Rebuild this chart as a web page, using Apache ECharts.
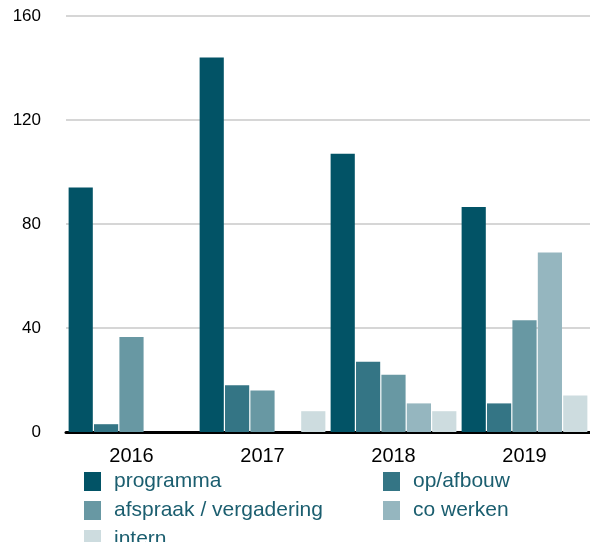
<!DOCTYPE html>
<html>
<head>
<meta charset="utf-8">
<script src="https://cdn.jsdelivr.net/npm/echarts@6/dist/echarts.min.js"></script>
<style>
  html, body { margin: 0; padding: 0; background: #fff; }
  #chart { width: 590px; height: 542px; }
</style>
</head>
<body>
<div id="chart"></div>
<script>
// categories and series values
const years = ['2016', '2017', '2018', '2019'];
const programma = [94, 144, 107, 86.5];
const opAfbouw = [3, 18, 27, 11];
const afspraak = [36.5, 16, 22, 43];
const coWerken = [0, 0, 11, 69];
const intern = [0, 8, 8, 14];
const yTicks = [0, 40, 80, 120, 160];

const names = ['programma', 'op/afbouw', 'afspraak / vergadering', 'co werken', 'intern'];
const colors = ['#025366', '#347585', '#6898a3', '#95b6bf', '#cddcdf'];
const values = [programma, opAfbouw, afspraak, coWerken, intern];

const chart = echarts.init(document.getElementById('chart'));

const series = names.map((name, i) => ({
    name,
    type: 'bar',
    data: values[i],
    itemStyle: { color: colors[i] },
    barGap: '5%',
    barCategoryGap: '4%'
}));

const legendText = {
    color: '#1b5e6f',
    fontSize: 21,
    fontFamily: 'Liberation Sans',
    padding: [0, 0, 0, 8]
};

// two legend columns, like the original layout
const legendBase = {
    orient: 'vertical',
    top: 471,
    height: 80,
    padding: 0,
    itemWidth: 17, itemHeight: 19, itemGap: 8,
    icon: 'rect',
    textStyle: legendText
};

chart.setOption({
    animation: false,
    color: colors,
    grid: { left: 66, right: 0, top: 16, bottom: 110 },
    legend: [
        Object.assign({}, legendBase, { data: [names[0], names[2], names[4]], left: 84 }),
        Object.assign({}, legendBase, { data: [names[1], names[3]], left: 383 })
    ],
    xAxis: {
        type: 'category',
        data: years,
        axisTick: { show: false },
        axisLine: { lineStyle: { color: '#000', width: 3 } },
        axisLabel: { color: '#000', fontSize: 20, fontFamily: 'Liberation Sans', margin: 14 }
    },
    yAxis: {
        type: 'value',
        min: yTicks[0],
        max: yTicks[yTicks.length - 1],
        interval: 40,
        axisLine: { show: false },
        axisTick: { show: false },
        axisLabel: { color: '#000', fontSize: 17, fontFamily: 'Liberation Sans', margin: 25 },
        splitLine: { lineStyle: { color: '#c8c8c8', width: 1.5 } }
    },
    series
});
</script>
</body>
</html>
